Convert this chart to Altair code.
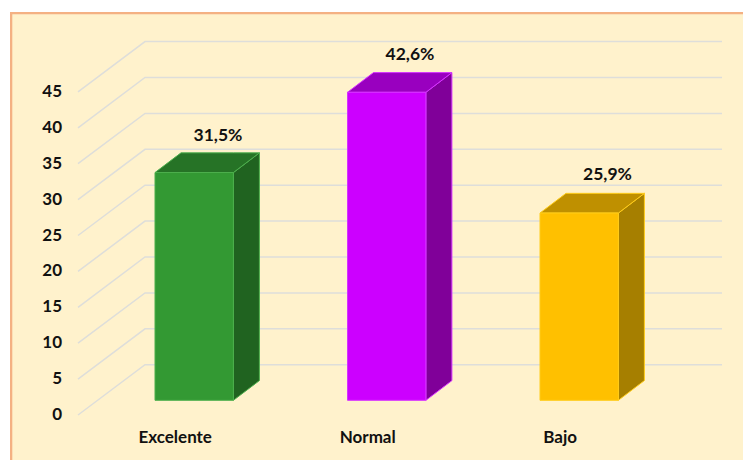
import altair as alt
import pandas as pd

categories = ["Excelente", "Normal", "Bajo"]
values = [31.5, 42.6, 25.9]
value_labels = ["31,5%", "42,6%", "25,9%"]
label_shift_x = [23.8, 23.3, 28.3]
label_shift_y = [16.5, 17.5, 18.5]
tick_values = [0, 5, 10, 15, 20, 25, 30, 35, 40, 45]
front_colors = ["#339933", "#CC00FF", "#FFC000"]
top_colors = ["#267326", "#9900BF", "#BF9000"]
side_colors = ["#206320", "#800099", "#A67F00"]
edge_colors = ["#4DAF4D", "#D633FF", "#FFCC1A"]

FONT = "Lato"
W, H = 735, 452
PX_PER_CAT = 192.5
PX_PER_UNIT = 7.18
BAR_STRETCH = 7.23 / 7.18
CENTER0 = 194.2
ZERO_Y = 415


def ux(px):
    return (px - CENTER0) / PX_PER_CAT


def uy(px):
    return (ZERO_Y - px) / PX_PER_UNIT


x_scale = alt.Scale(domain=[ux(8), ux(8 + W)], nice=False, zero=False)
y_scale = alt.Scale(domain=[uy(8 + H), uy(8)], nice=False, zero=False)
X = alt.X("x:Q", scale=x_scale, axis=None)
Y = alt.Y("y:Q", scale=y_scale, axis=None)

HALF = 39.2 / PX_PER_CAT
DX = 26 / PX_PER_CAT
DY = 19.7 / PX_PER_UNIT
BASE = (ZERO_Y - 400.3) / PX_PER_UNIT
WALL_X0, WALL_X1, WALL_X2 = ux(78), ux(145), ux(722)
WALL_DY = 50.3 / PX_PER_UNIT

frame = pd.DataFrame(
    [
        {"x": ux(10), "x2": ux(8 + W), "y": uy(12), "y2": uy(8 + H), "c": "#F4B183"},
        {"x": ux(12.3), "x2": ux(8 + W), "y": uy(14.3), "y2": uy(8 + H), "c": "#FFF2CC"},
    ]
)
frame_layer = alt.Chart(frame).mark_rect(strokeWidth=0).encode(
    x=X, x2="x2:Q", y=Y, y2="y2:Q", fill=alt.Fill("c:N", scale=None, sort=None)
)

grid_rows = []
for t in tick_values:
    grid_rows += [
        {"t": t, "x": WALL_X0, "y": t},
        {"t": t, "x": WALL_X1, "y": t + WALL_DY},
        {"t": t, "x": WALL_X2, "y": t + WALL_DY},
    ]
grid_layer = alt.Chart(pd.DataFrame(grid_rows)).mark_line(
    color="#DEDEDA", strokeWidth=1.5
).encode(x=X, y=Y, detail="t:N")

side_rows, top_rows, front_rows, value_rows = [], [], [], []
for i, cat in enumerate(categories):
    top = BASE + values[i] * BAR_STRETCH
    left, right = i - HALF, i + HALF
    side_rows += [
        {"c": cat, "x": right, "y": BASE, "y2": top, "f": side_colors[i], "s": edge_colors[i]},
        {"c": cat, "x": right + DX, "y": BASE + DY, "y2": top + DY, "f": side_colors[i], "s": edge_colors[i]},
    ]
    for xv, a, b in [
        (left, top, top),
        (left + DX, top, top + DY),
        (right, top, top + DY),
        (right + DX, top + DY, top + DY),
    ]:
        top_rows.append({"c": cat, "x": xv, "y": a, "y2": b, "f": top_colors[i], "s": edge_colors[i]})
    front_rows.append({"x": left, "x2": right, "y": BASE, "y2": top, "f": front_colors[i], "s": edge_colors[i]})
    value_rows.append(
        {
            "x": i + label_shift_x[i] / PX_PER_CAT,
            "y": top + DY + label_shift_y[i] / PX_PER_UNIT,
            "t": value_labels[i],
        }
    )


def face(rows):
    return alt.Chart(pd.DataFrame(rows)).mark_area(strokeWidth=1, interpolate="linear").encode(
        x=X,
        y=Y,
        y2="y2:Q",
        detail="c:N",
        fill=alt.Fill("f:N", scale=None),
        stroke=alt.Stroke("s:N", scale=None),
    )


side_layer = face(side_rows)
top_layer = face(top_rows)
front_layer = alt.Chart(pd.DataFrame(front_rows)).mark_rect(strokeWidth=1).encode(
    x=X,
    x2="x2:Q",
    y=Y,
    y2="y2:Q",
    fill=alt.Fill("f:N", scale=None),
    stroke=alt.Stroke("s:N", scale=None),
)

tick_df = pd.DataFrame({"x": [ux(62)] * len(tick_values), "y": tick_values, "t": [str(t) for t in tick_values]})
tick_layer = alt.Chart(tick_df).mark_text(
    align="right", baseline="middle", font=FONT, fontWeight="bold", fontSize=17, color="#111111"
).encode(x=X, y=Y, text="t:N")

cat_df = pd.DataFrame(
    {
        "x": [i - 19 / PX_PER_CAT for i in range(len(categories))],
        "y": [uy(438)] * len(categories),
        "t": categories,
    }
)
cat_layer = alt.Chart(cat_df).mark_text(
    align="center", baseline="middle", font=FONT, fontWeight="bold", fontSize=17, color="#111111"
).encode(x=X, y=Y, text="t:N")

value_layer = alt.Chart(pd.DataFrame(value_rows)).mark_text(
    align="center", baseline="middle", font=FONT, fontWeight="bold", fontSize=17.5, color="#111111"
).encode(x=X, y=Y, text="t:N")

chart = (
    alt.layer(
        frame_layer, grid_layer, side_layer, top_layer, front_layer, tick_layer, cat_layer, value_layer
    )
    .properties(width=W, height=H, padding=0, background="white")
    .configure_view(stroke=None)
)

chart.save("out.html", embed_options={"renderer": "svg", "actions": False})
